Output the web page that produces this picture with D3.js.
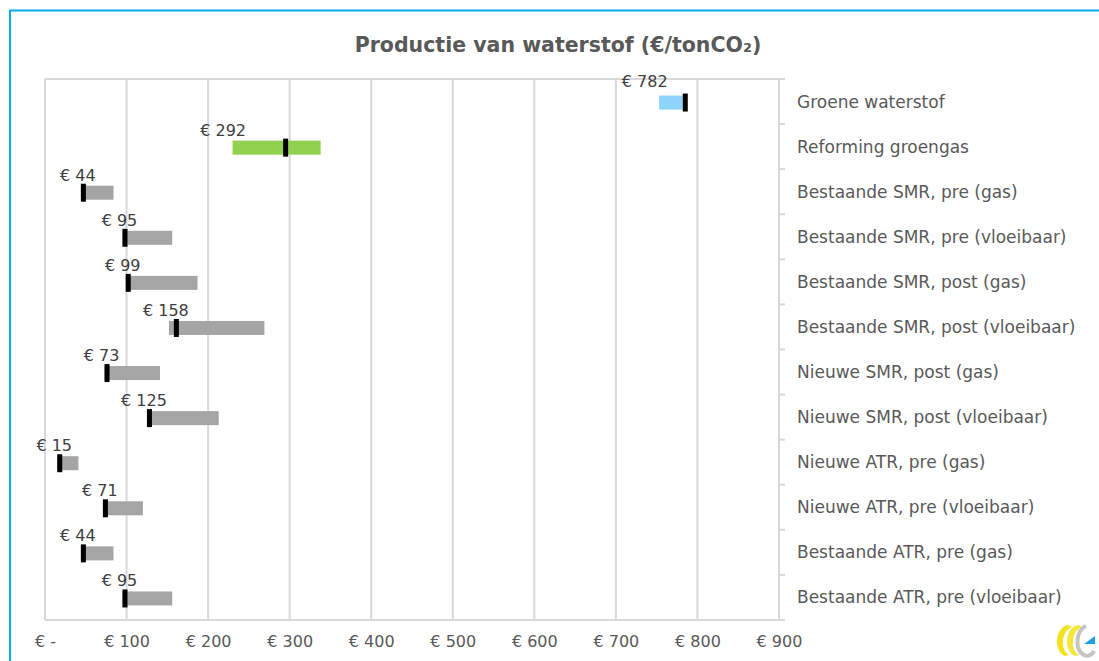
<!DOCTYPE html>
<html>
<head>
<meta charset="utf-8">
<script src="https://cdn.jsdelivr.net/npm/d3@7"></script>
<style>
  html, body { margin: 0; padding: 0; background: #fff; }
  svg { display: block; }
</style>
</head>
<body>
<svg id="chart" width="1099" height="661"></svg>
<script>
const categories = [
  "Groene waterstof",
  "Reforming groengas",
  "Bestaande SMR, pre (gas)",
  "Bestaande SMR, pre (vloeibaar)",
  "Bestaande SMR, post (gas)",
  "Bestaande SMR, post (vloeibaar)",
  "Nieuwe SMR, post (gas)",
  "Nieuwe SMR, post (vloeibaar)",
  "Nieuwe ATR, pre (gas)",
  "Nieuwe ATR, pre (vloeibaar)",
  "Bestaande ATR, pre (gas)",
  "Bestaande ATR, pre (vloeibaar)"
];
const values = [782, 292, 44, 95, 99, 158, 73, 125, 15, 71, 44, 95];
const lows   = [753, 230, 44, 95, 99, 152, 73, 125, 15, 71, 44, 95];
const highs  = [782, 338, 84, 156, 187, 269, 141, 213, 41, 120, 84, 156];
const tickValues = [0, 100, 200, 300, 400, 500, 600, 700, 800, 900];
const tickLabels = ["€ -", "€ 100", "€ 200", "€ 300", "€ 400", "€ 500", "€ 600", "€ 700", "€ 800", "€ 900"];
const title = "Productie van waterstof (€/tonCO₂)";

// styling (not data)
const barColours = { "Groene waterstof": "#8ED3F9", "Reforming groengas": "#92D050" };
const defaultBar = "#A5A5A5";
const labelNudge = {
  "Groene waterstof": { dx: -35, dy: -4 },
  "Reforming groengas": { dx: -57, dy: 0 },
  "Bestaande SMR, post (vloeibaar)": { dx: -5, dy: 0 }
};

const svg = d3.select("#chart");
const FONT = "'DejaVu Sans', Verdana, sans-serif";
const pLeft = 45, pRight = 779, pTop = 79, pBottom = 620;

// outer frame (blue)
svg.append("path")
  .attr("d", `M10,661 L10,10.5 L1099,10.5`)
  .attr("fill", "none").attr("stroke", "#00AEEF").attr("stroke-width", 2);

const x = d3.scaleLinear().domain([0, 900]).range([pLeft, pRight]);
const y = d3.scaleBand().domain(categories).range([pTop, pBottom]).padding(0);

const grid = "#D9D9D9";
// vertical gridlines
svg.append("g").selectAll("line").data(tickValues).join("line")
  .attr("x1", d => x(d)).attr("x2", d => x(d))
  .attr("y1", pTop).attr("y2", pBottom)
  .attr("stroke", grid).attr("stroke-width", 2);
// top & bottom border
svg.append("line").attr("x1", pLeft).attr("x2", pRight + 6).attr("y1", pTop).attr("y2", pTop)
  .attr("stroke", grid).attr("stroke-width", 2);
svg.append("line").attr("x1", pLeft).attr("x2", pRight + 6).attr("y1", pBottom).attr("y2", pBottom)
  .attr("stroke", grid).attr("stroke-width", 2);
// category tick marks on right axis
const bounds = categories.map(c => y(c)).concat([pBottom]);
svg.append("g").selectAll("line").data(bounds).join("line")
  .attr("x1", pRight).attr("x2", pRight + 6)
  .attr("y1", d => d).attr("y2", d => d)
  .attr("stroke", grid).attr("stroke-width", 2);

// x axis labels
const xAxis = d3.axisBottom(x).tickValues(tickValues)
  .tickFormat((d, i) => tickLabels[i]).tickSize(0).tickPadding(0);
const gx = svg.append("g").attr("transform", `translate(0,${pBottom})`).call(xAxis);
gx.select(".domain").remove();
gx.selectAll("text").attr("y", 27).attr("dy", null)
  .attr("font-family", FONT).attr("font-size", 16).attr("fill", "#595959");

// category labels (right)
svg.append("g").selectAll("text").data(categories).join("text")
  .attr("x", 797).attr("y", d => y(d) + y.bandwidth() / 2 + 6)
  .attr("font-family", FONT).attr("font-size", 17).attr("fill", "#595959")
  .text(d => d);

const rows = categories.map((c, i) => ({ c, v: values[i], lo: lows[i], hi: highs[i] }));
const bh = 14;
// range bars
svg.append("g").selectAll("rect").data(rows).join("rect")
  .attr("x", d => x(d.lo)).attr("width", d => x(d.hi) - x(d.lo))
  .attr("y", d => y(d.c) + y.bandwidth() / 2 + 1 - bh / 2).attr("height", bh)
  .attr("fill", d => barColours[d.c] || defaultBar);
// value markers
svg.append("g").selectAll("rect").data(rows).join("rect")
  .attr("x", d => x(d.v)).attr("width", 5)
  .attr("y", d => y(d.c) + y.bandwidth() / 2 + 1 - 9).attr("height", 18)
  .attr("fill", "#000");
// value labels
svg.append("g").selectAll("text").data(rows).join("text")
  .attr("x", d => x(d.v) - 3 + ((labelNudge[d.c] || {}).dx || 0))
  .attr("y", d => y(d.c) + y.bandwidth() / 2 - 11 + ((labelNudge[d.c] || {}).dy || 0))
  .attr("text-anchor", "middle")
  .attr("font-family", FONT).attr("font-size", 16).attr("fill", "#404040")
  .text(d => "€ " + d.v);

// title
svg.append("text").attr("x", 558).attr("y", 52).attr("text-anchor", "middle")
  .attr("font-family", FONT).attr("font-size", 20.5).attr("font-weight", "bold")
  .attr("fill", "#595959").text(title);

// logo (bottom right)
const logo = svg.append("g").attr("transform", "translate(1053,623)");
logo.append("path").attr("d", "M15,2 C2,4 0,28 12,33 L16,32 C7,27 8,8 19,4 Z").attr("fill", "#F2E21C");
logo.append("path").attr("d", "M25,2 C12,4 10,28 22,33 L26,32 C17,27 18,8 29,4 Z").attr("fill", "#F5E83A");
logo.append("path").attr("d", "M33,3 C23,7 21,27 31,32 C35,34 39,32 41,28").attr("fill", "none")
  .attr("stroke", "#C4C4C4").attr("stroke-width", 4);
logo.append("path").attr("d", "M31,21 L42,13 L42,21 Z").attr("fill", "#1BA1E2");
</script>
</body>
</html>
